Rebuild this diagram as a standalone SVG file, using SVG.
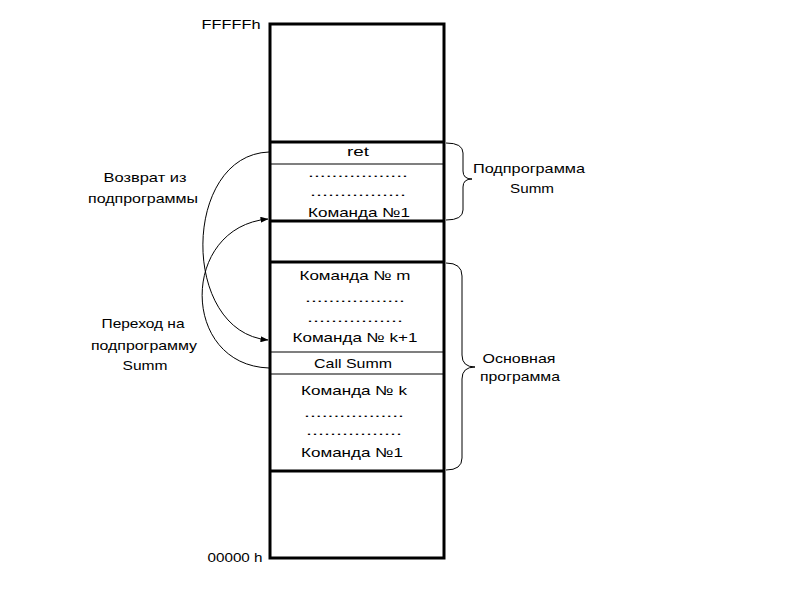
<svg xmlns="http://www.w3.org/2000/svg" width="800" height="600" viewBox="0 0 800 600">
<style>
text{font-family:"Liberation Sans",Arial,sans-serif;font-size:13px;fill:#000}
.c{text-anchor:middle}
.thick{stroke:#000;stroke-width:3;fill:none}
.thin{stroke:#000;stroke-width:1.1;fill:none}
.conn{stroke:#000;stroke-width:1;fill:none}
</style>
<defs>
<marker id="arr" markerWidth="8" markerHeight="6" refX="7.5" refY="3" orient="auto" markerUnits="userSpaceOnUse">
<path d="M0,0 L8,3 L0,6 z" fill="#000"/>
</marker>
</defs>
<rect width="800" height="600" fill="#fff"/>
<g id="memory">
<rect class="thick" x="270" y="24" width="174" height="534"/>
<line class="thick" x1="270" y1="142" x2="444" y2="142"/>
<line class="thin" x1="270" y1="164" x2="444" y2="164"/>
<line class="thick" x1="270" y1="221" x2="444" y2="221"/>
<line class="thick" x1="270" y1="262" x2="444" y2="262"/>
<line class="thin" x1="270" y1="352" x2="444" y2="352"/>
<line class="thin" x1="270" y1="374" x2="444" y2="374"/>
<line class="thick" x1="270" y1="471" x2="444" y2="471"/>
<text x="231" y="29" textLength="59" lengthAdjust="spacingAndGlyphs" class="c">FFFFFh</text>
<text x="235" y="562" textLength="55" lengthAdjust="spacingAndGlyphs" class="c">00000 h</text>
</g>
<g id="subroutine">
<text x="358" y="156" class="c" textLength="22" lengthAdjust="spacingAndGlyphs">ret</text>
<text x="358" y="177" class="c" textLength="100" lengthAdjust="spacingAndGlyphs">.................</text>
<text x="358" y="196" class="c" textLength="96" lengthAdjust="spacingAndGlyphs">................</text>
<text x="359" y="217" class="c" textLength="102" lengthAdjust="spacingAndGlyphs">Команда №1</text>
</g>
<g id="main">
<text x="355" y="280" class="c" textLength="111" lengthAdjust="spacingAndGlyphs">Команда № m</text>
<text x="355" y="302" class="c" textLength="100" lengthAdjust="spacingAndGlyphs">.................</text>
<text x="355" y="322" class="c" textLength="96" lengthAdjust="spacingAndGlyphs">................</text>
<text x="355" y="342" class="c" textLength="125" lengthAdjust="spacingAndGlyphs">Команда № k+1</text>
<text x="353" y="368" class="c" textLength="78" lengthAdjust="spacingAndGlyphs">Call Summ</text>
<text x="354" y="395" class="c" textLength="106" lengthAdjust="spacingAndGlyphs">Команда № k</text>
<text x="354" y="417" class="c" textLength="100" lengthAdjust="spacingAndGlyphs">.................</text>
<text x="354" y="435" class="c" textLength="96" lengthAdjust="spacingAndGlyphs">................</text>
<text x="352" y="457" class="c" textLength="102" lengthAdjust="spacingAndGlyphs">Команда №1</text>
</g>
<g id="label-return">
<text x="145" y="182" class="c" textLength="83" lengthAdjust="spacingAndGlyphs">Возврат из</text>
<text x="143" y="203" class="c" textLength="110" lengthAdjust="spacingAndGlyphs">подпрограммы</text>
</g>
<g id="label-call">
<text x="143" y="328" class="c" textLength="83" lengthAdjust="spacingAndGlyphs">Переход на</text>
<text x="144" y="350" class="c" textLength="106" lengthAdjust="spacingAndGlyphs">подпрограмму</text>
<text x="145" y="370" class="c" textLength="45" lengthAdjust="spacingAndGlyphs">Summ</text>
</g>
<g id="label-sub">
<path class="conn" d="M446,143 Q463,143 463,153 L463,171 Q463,179 472,179 Q463,179 463,187 L463,210 Q463,220 446,220"/>
<text x="529" y="173" class="c" textLength="112" lengthAdjust="spacingAndGlyphs">Подпрограмма</text>
<text x="532" y="193" class="c" textLength="44" lengthAdjust="spacingAndGlyphs">Summ</text>
</g>
<g id="label-main">
<path class="conn" d="M446,263 Q462,263 462,276 L462,355 Q462,367 475,367 Q462,367 462,379 L462,458 Q462,470 446,470"/>
<text x="519" y="363" class="c" textLength="73" lengthAdjust="spacingAndGlyphs">Основная</text>
<text x="520" y="381" class="c" textLength="80" lengthAdjust="spacingAndGlyphs">программа</text>
</g>
<g id="connectors">
<path class="conn" d="M269,152 C182,155 180,332 268,340" marker-end="url(#arr)"/>
<path class="conn" d="M269,368 C180,365 180,227 268,219" marker-end="url(#arr)"/>
</g>
</svg>
